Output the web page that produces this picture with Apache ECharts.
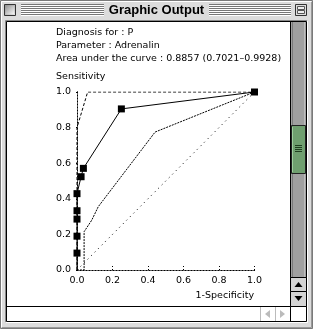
<!DOCTYPE html>
<html>
<head>
<meta charset="utf-8">
<script src="https://cdn.jsdelivr.net/npm/echarts@6/dist/echarts.min.js"></script>
<style>html,body{margin:0;padding:0;background:#ddd}#c{width:313px;height:329px}</style>
</head>
<body>
<div id="c"></div>
<script>
// ---- data ----
var headerLines = ['Diagnosis for : P', 'Parameter : Adrenalin', 'Area under the curve : 0.8857 (0.7021\u20130.9928)'];
var yAxisName = 'Sensitivity';
var xAxisName = '1-Specificity';
var windowTitle = 'Graphic Output';
var rocX = [0, 0, 0, 0, 0, 0, 0.023, 0.036, 0.25, 1];
var rocY = [0, 0.095, 0.19, 0.286, 0.333, 0.429, 0.524, 0.571, 0.905, 1];
var upperX = [0, 0, 0.06, 1];
var upperY = [0, 0.8, 1, 1];
var lowerX = [0, 0.04, 0.04, 0.083, 0.12, 0.44, 1];
var lowerY = [0, 0, 0.215, 0.28, 0.356, 0.775, 1];
var diagX = [0, 1];
var diagY = [0, 1];

function pairs(xs, ys) { return xs.map(function (x, i) { return [x, ys[i]]; }); }
var rocData = pairs(rocX, rocY).map(function (p, i) {
  return i === 0 ? { value: p, symbol: 'none' } : { value: p };
});

var FONT = 'DejaVu Sans';
var g = [];
// window background
g.push({ type: 'rect', z: -100, shape: { x: 0, y: 0, width: 313, height: 329 }, style: { fill: '#dcdcdc' } });
g.push({ type: 'rect', z: -99, shape: { x: 0.5, y: 0.5, width: 312, height: 328 }, style: { fill: 'none', stroke: '#7a7a7a' } });
g.push({ type: 'polyline', z: -99, shape: { points: [[1.5, 327], [1.5, 1.5], [311, 1.5]] }, style: { stroke: '#fff', fill: 'none' } });
g.push({ type: 'polyline', z: -99, shape: { points: [[311.5, 2], [311.5, 327.5], [2, 327.5]] }, style: { stroke: '#999', fill: 'none' } });
// title stripes
for (var i = 0; i < 6; i++) {
  var yy = 4.5 + 2 * i;
  g.push({ type: 'line', z: -98, shape: { x1: 21, y1: yy, x2: 104, y2: yy }, style: { stroke: '#777' } });
  g.push({ type: 'line', z: -98, shape: { x1: 21, y1: yy + 1, x2: 104, y2: yy + 1 }, style: { stroke: '#fff' } });
  g.push({ type: 'line', z: -98, shape: { x1: 209, y1: yy, x2: 291, y2: yy }, style: { stroke: '#777' } });
  g.push({ type: 'line', z: -98, shape: { x1: 209, y1: yy + 1, x2: 291, y2: yy + 1 }, style: { stroke: '#fff' } });
}
g.push({ type: 'text', z: -97, style: { text: windowTitle, x: 156.5, y: 10.5, align: 'center', verticalAlign: 'middle', font: 'bold 13px "Liberation Sans"', fill: '#000' } });
// close box
g.push({ type: 'rect', z: -97, shape: { x: 4.5, y: 4.5, width: 11, height: 11 }, style: { fill: new echarts.graphic.LinearGradient(0, 0, 1, 1, [{ offset: 0, color: '#888' }, { offset: 1, color: '#eee' }]), stroke: '#333' } });
g.push({ type: 'rect', z: -97, shape: { x: 6, y: 6, width: 8, height: 8 }, style: { fill: new echarts.graphic.LinearGradient(0, 0, 1, 1, [{ offset: 0, color: '#999' }, { offset: 1, color: '#f4f4f4' }]), stroke: 'none' } });
// zoom box
g.push({ type: 'rect', z: -97, shape: { x: 295.5, y: 4.5, width: 11, height: 11 }, style: { fill: '#ddd', stroke: '#333' } });
g.push({ type: 'rect', z: -97, shape: { x: 297.5, y: 6.5, width: 7, height: 3 }, style: { fill: '#eee', stroke: '#555' } });
g.push({ type: 'rect', z: -97, shape: { x: 297.5, y: 10.5, width: 7, height: 3 }, style: { fill: '#eee', stroke: '#555' } });
// content frame
g.push({ type: 'rect', z: -96, shape: { x: 6.5, y: 21.5, width: 300, height: 300 }, style: { fill: '#fff', stroke: '#000' } });
g.push({ type: 'polyline', z: -96, shape: { points: [[5.5, 322], [5.5, 20.5], [307, 20.5]] }, style: { stroke: '#888', fill: 'none' } });
g.push({ type: 'polyline', z: -96, shape: { points: [[307.5, 21], [307.5, 322.5], [6, 322.5]] }, style: { stroke: '#fff', fill: 'none' } });
// vertical scrollbar
g.push({ type: 'line', z: -95, shape: { x1: 290.5, y1: 22, x2: 290.5, y2: 321 }, style: { stroke: '#000' } });
g.push({ type: 'rect', z: -95, shape: { x: 291, y: 22, width: 15, height: 255 }, style: { fill: '#a0a0a0' } });
g.push({ type: 'line', z: -95, shape: { x1: 292.5, y1: 22, x2: 292.5, y2: 277 }, style: { stroke: '#7a7a7a' } });
g.push({ type: 'line', z: -95, shape: { x1: 304.5, y1: 22, x2: 304.5, y2: 277 }, style: { stroke: '#bdbdbd' } });
g.push({ type: 'rect', z: -94, shape: { x: 291.5, y: 125.5, width: 14, height: 48 }, style: { fill: '#6f9f6f', stroke: '#222' } });
g.push({ type: 'line', z: -94, shape: { x1: 292.5, y1: 127, x2: 292.5, y2: 172 }, style: { stroke: '#9fcf9f' } });
for (var k = 0; k < 4; k++) {
  var gy = 145.5 + 2 * k;
  g.push({ type: 'line', z: -93, shape: { x1: 295, y1: gy, x2: 302, y2: gy }, style: { stroke: '#1f3f1f' } });
}
g.push({ type: 'rect', z: -94, shape: { x: 290.5, y: 277.5, width: 16, height: 14 }, style: { fill: '#d4d4d4', stroke: '#000' } });
g.push({ type: 'polygon', z: -93, shape: { points: [[294.5, 287], [302.5, 287], [298.5, 282]] }, style: { fill: '#000' } });
g.push({ type: 'rect', z: -94, shape: { x: 290.5, y: 291.5, width: 16, height: 15 }, style: { fill: '#d4d4d4', stroke: '#000' } });
g.push({ type: 'polygon', z: -93, shape: { points: [[294.5, 296], [302.5, 296], [298.5, 301]] }, style: { fill: '#000' } });
// horizontal scrollbar
g.push({ type: 'line', z: -95, shape: { x1: 6, y1: 306.5, x2: 307, y2: 306.5 }, style: { stroke: '#000' } });
g.push({ type: 'line', z: -95, shape: { x1: 260.5, y1: 307, x2: 260.5, y2: 321 }, style: { stroke: '#bbb' } });
g.push({ type: 'line', z: -95, shape: { x1: 275.5, y1: 307, x2: 275.5, y2: 321 }, style: { stroke: '#bbb' } });
g.push({ type: 'polygon', z: -93, shape: { points: [[270, 310], [270, 318], [265, 314]] }, style: { fill: '#bbb' } });
g.push({ type: 'polygon', z: -93, shape: { points: [[280, 310], [280, 318], [285, 314]] }, style: { fill: '#bbb' } });
// header text
headerLines.forEach(function (t, i) {
  g.push({ type: 'text', z: 10, style: { text: t, x: 56, y: 33 + 13 * i, verticalAlign: 'middle', font: '9.5px "' + FONT + '"', fill: '#000' } });
});
g.push({ type: 'text', z: 10, style: { text: yAxisName, x: 56, y: 77, verticalAlign: 'middle', font: '9.5px "' + FONT + '"', fill: '#000' } });
g.push({ type: 'text', z: 10, style: { text: xAxisName, x: 254, y: 296, align: 'right', verticalAlign: 'middle', font: '9.5px "' + FONT + '"', fill: '#000' } });

var dotted = { color: '#000', width: 1, type: [1, 2] };
var chart = echarts.init(document.getElementById('c'), null, { renderer: 'canvas' });
chart.setOption({
  animation: false,
  backgroundColor: 'transparent',
  grid: { left: 77, right: 58.5, top: 92, bottom: 59, containLabel: false },
  graphic: g,
  xAxis: [{
    type: 'value', min: 0, max: 1, interval: 0.2,
    axisLine: { lineStyle: dotted },
    axisTick: { show: true, inside: true, length: 4, lineStyle: dotted },
    splitLine: { show: false },
    axisLabel: { color: '#000', fontFamily: FONT, fontSize: 9.5, margin: 6, formatter: function (v) { return v.toFixed(1); } }
  }, {
    type: 'value', min: 0, max: 1, position: 'top',
    axisLine: { show: true, lineStyle: dotted }, axisTick: { show: false }, axisLabel: { show: false }, splitLine: { show: false }
  }],
  yAxis: [{
    type: 'value', min: 0, max: 1, interval: 0.2,
    axisLine: { lineStyle: dotted },
    axisTick: { show: true, length: 3, lineStyle: dotted },
    splitLine: { show: false },
    axisLabel: { color: '#000', fontFamily: FONT, fontSize: 9.5, margin: 6, formatter: function (v) { return v.toFixed(1); } }
  }, {
    type: 'value', min: 0, max: 1, position: 'right',
    axisLine: { show: true, lineStyle: dotted }, axisTick: { show: false }, axisLabel: { show: false }, splitLine: { show: false }
  }],
  series: [
    { type: 'line', data: pairs(diagX, diagY), symbol: 'none', lineStyle: { color: '#000', width: 1, type: [1, 4] }, z: 3 },
    { type: 'line', data: pairs(lowerX, lowerY), symbol: 'none', lineStyle: { color: '#000', width: 1, type: [2, 1] }, z: 3 },
    { type: 'line', data: pairs(upperX, upperY), symbol: 'none', lineStyle: { color: '#000', width: 1, type: [3, 2] }, z: 3 },
    { type: 'line', data: rocData, symbol: 'rect', symbolSize: 7, showAllSymbol: true,
      itemStyle: { color: '#000', borderWidth: 0 }, lineStyle: { color: '#000', width: 1 }, z: 4 }
  ]
});
</script>
</body>
</html>
